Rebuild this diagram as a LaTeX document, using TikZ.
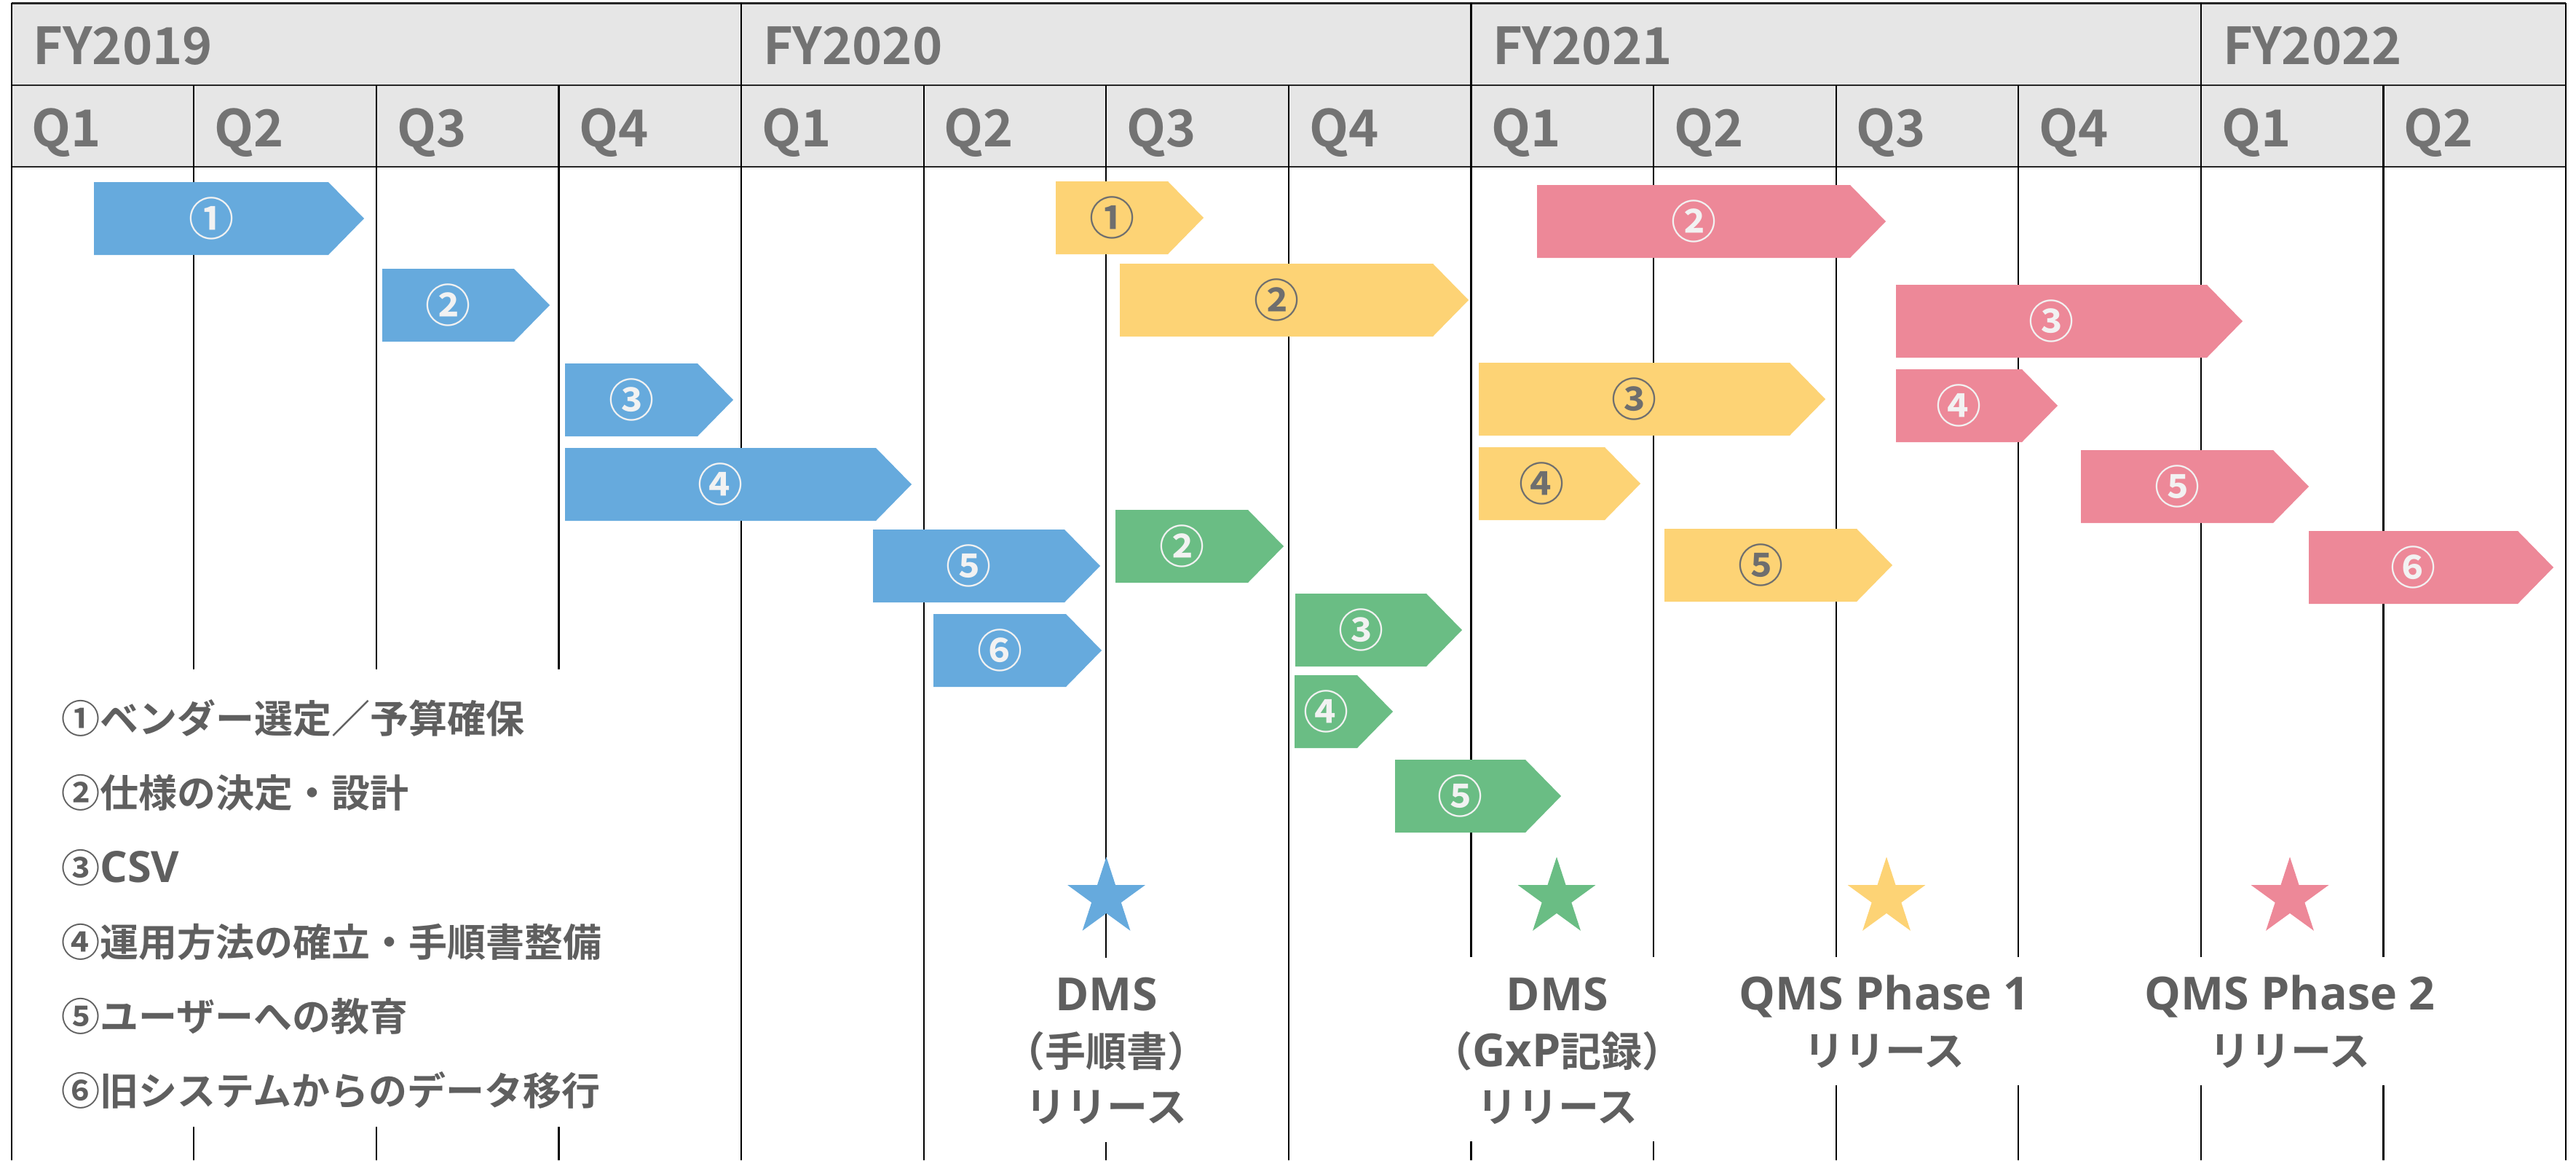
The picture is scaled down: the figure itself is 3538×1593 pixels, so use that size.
\documentclass[tikz,border=0pt]{standalone}
\usepackage{fontspec}
\setmainfont{Noto Sans CJK JP}[BoldFont=* Bold]
\newfontfamily\osans{Open Sans}[Scale=1.12]
\usetikzlibrary{shapes.geometric}
\definecolor{cblue}{HTML}{66AADD}
\definecolor{cgreen}{HTML}{6ABD84}
\definecolor{cyellow}{HTML}{FDD375}
\definecolor{cpink}{HTML}{ED8898}
\definecolor{hdrfill}{HTML}{E6E6E6}
\definecolor{hdrtext}{HTML}{737373}
\definecolor{lbltext}{HTML}{5F5F5F}
\definecolor{numwhite}{HTML}{F2F2F2}
\definecolor{numgray}{HTML}{6E6E6E}
\newcommand{\latn}[1]{{\osans\bfseries #1}}
\newcommand{\gbar}[7]{%
  \fill[#2] (#3,#5) -- (#4,#5) -- ({#4+49},{#5+50}) -- (#4,{#5+100}) -- (#3,{#5+100}) -- cycle;
  \node[num,text=#7] (#1) at ({(#3+#4)/2},{#5+50}) {#6};}
\tikzset{
  num/.style={inner sep=0pt, font=\bfseries\fontsize{62}{62}\selectfont},
  hdr/.style={inner sep=0pt, anchor=base west, text=hdrtext, font=\bfseries\fontsize{70}{70}\selectfont},
  legendtxt/.style={inner sep=0pt, anchor=base west, text=lbltext, font=\bfseries\fontsize{53}{53}\selectfont},
  release/.style={inner sep=0pt, anchor=north, align=center, text=lbltext, font=\bfseries\fontsize{56}{76.5}\selectfont},
  gridline/.style={line width=2.2pt, draw=black},
  hdrline/.style={line width=2.4pt, draw=black!85},
  milestone/.style={star, star points=5, star point ratio=2.618, minimum size=112pt, inner sep=0pt, draw=none},
}
\begin{document}
\begin{tikzpicture}[x=1pt,y=-1pt]
\useasboundingbox (0,0) rectangle (3538,1593);
\fill[white] (0,0) rectangle (3538,1593);
% header
\fill[hdrfill] (15.7,4.3) rectangle (3524.1,229);
% header lines
\draw[hdrline] (15.7,4.3) -- (3524.1,4.3);
\draw[hdrline] (15.7,117) -- (3524.1,117);
\draw[hdrline] (15.7,229) -- (3524.1,229);
\foreach \k in {1,2,3,5,6,7,9,10,11,13}
  \draw[gridline] ({15.7+\k*250.6},117) -- ({15.7+\k*250.6},229);
\foreach \k in {4,8,12}
  \draw[gridline] ({15.7+\k*250.6},4.3) -- ({15.7+\k*250.6},229);
% borders
\draw[gridline] (15.7,4.3) -- (15.7,1593);
\draw[gridline] (3524.1,4.3) -- (3524.1,1593);
% body vertical lines
\foreach \k/\a/\b in {1/229/919, 2/229/919, 3/229/919, 1/1547/1593, 2/1547/1593, 3/1547/1593,
  4/229/1593, 5/229/1593, 7/229/1593,
  6/229/1315, 6/1568/1593, 8/229/1314, 9/229/1314, 8/1567/1593, 9/1567/1593,
  10/229/1314, 11/229/1314, 12/229/1314, 13/229/1314,
  10/1490/1593, 11/1490/1593, 12/1490/1593, 13/1490/1593}
  \draw[gridline] ({15.7+\k*250.6},\a) -- ({15.7+\k*250.6},\b);
% header texts
\foreach \k/\t/\n in {0/FY2019/fy19, 4/FY2020/fy20, 8/FY2021/fy21, 12/FY2022/fy22}
  \node[hdr] (\n) at ({15.7+\k*250.6+30},88.5) {\t};
\foreach \k/\t in {0/Q1,1/Q2,2/Q3,3/Q4,4/Q1,5/Q2,6/Q3,7/Q4,8/Q1,9/Q2,10/Q3,11/Q4,12/Q1,13/Q2}
  \node[hdr] (q\k) at ({15.7+\k*250.6+28},201) {\t};
% bars: name, colour, left, notch, top, label, label colour
\gbar{b1}{cblue}{129}{451}{250}{①}{numwhite}
\gbar{b2}{cblue}{525}{706}{369}{②}{numwhite}
\gbar{b3}{cblue}{776}{958}{499}{③}{numwhite}
\gbar{b4}{cblue}{776}{1203}{615}{④}{numwhite}
\gbar{b5}{cblue}{1199}{1462}{727}{⑤}{numwhite}
\gbar{b6}{cblue}{1282}{1464}{843}{⑥}{numwhite}
\gbar{y1}{cyellow}{1450}{1604}{249}{①}{numgray}
\gbar{y2}{cyellow}{1538}{1968}{362}{②}{numgray}
\gbar{y3}{cyellow}{2031}{2458}{498}{③}{numgray}
\gbar{y4}{cyellow}{2031}{2204}{614}{④}{numgray}
\gbar{y5}{cyellow}{2286}{2550}{726}{⑤}{numgray}
\gbar{g2}{cgreen}{1532}{1714}{700}{②}{numwhite}
\gbar{g3}{cgreen}{1779}{1959}{815}{③}{numwhite}
\gbar{g4}{cgreen}{1778}{1864}{927}{④}{numwhite}
\gbar{g5}{cgreen}{1916}{2095}{1043}{⑤}{numwhite}
\gbar{p2}{cpink}{2111}{2541}{254}{②}{numwhite}
\gbar{p3}{cpink}{2604}{3031}{391}{③}{numwhite}
\gbar{p4}{cpink}{2604}{2777}{507}{④}{numwhite}
\gbar{p5}{cpink}{2858}{3122}{618}{⑤}{numwhite}
\gbar{p6}{cpink}{3171}{3458}{729}{⑥}{numwhite}
% legend
\node[legendtxt] (l1) at (84,1006) {①ベンダー選定／予算確保};
\node[legendtxt] (l2) at (84,1108) {②仕様の決定・設計};
\node[legendtxt] (l3) at (84,1211) {③\latn{CSV}};
\node[legendtxt] (l4) at (84,1313) {④運用方法の確立・手順書整備};
\node[legendtxt] (l5) at (84,1415) {⑤ユーザーへの教育};
\node[legendtxt] (l6) at (84,1517) {⑥旧システムからのデータ移行};
% milestones
\node[milestone, fill=cblue] (s1) at (1519.5,1232.5) {};
\node[milestone, fill=cgreen] (s2) at (2138,1232.5) {};
\node[milestone, fill=cyellow] (s3) at (2591,1232.5) {};
\node[milestone, fill=cpink] (s4) at (3145,1232.5) {};
\node[release] (r1) at (1519.5,1342) {\latn{DMS}\\（手順書）\\リリース};
\node[release] (r2) at (2139,1342) {\latn{DMS}\\（\latn{GxP}記録）\\リリース};
\node[release] (r3) at (2588,1339) {\latn{QMS Phase 1}\\リリース};
\node[release] (r4) at (3145,1339) {\latn{QMS Phase 2}\\リリース};
\end{tikzpicture}
\end{document}
